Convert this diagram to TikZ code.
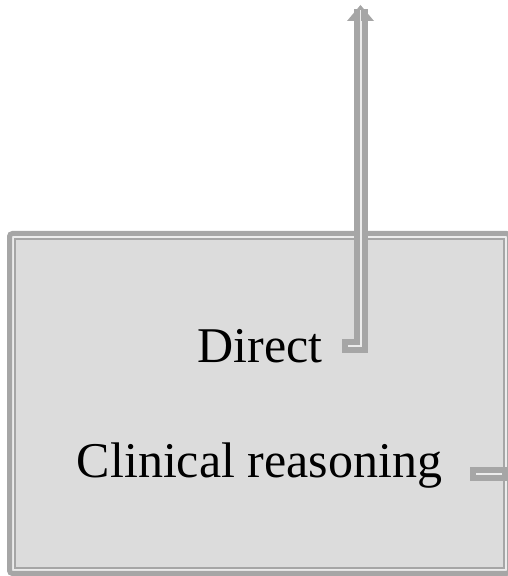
\documentclass[tikz,border=0pt]{standalone}
\usepackage{fontspec}
\setmainfont{Liberation Serif}
\definecolor{boxfill}{RGB}{220,220,220}
\definecolor{bordergray}{RGB}{166,166,166}
\definecolor{gaplight}{RGB}{236,236,236}
\tikzset{
  conn/.style={draw=bordergray, line width=6pt, double=gaplight, double distance=2pt, line cap=rect},
  lbl/.style={font=\fontsize{50}{56}\selectfont, anchor=base, inner sep=0pt}
}
\begin{document}
\begin{tikzpicture}[x=1pt,y=1pt]
\useasboundingbox (0,0) rectangle (508,576);
% box: outer band, light gap, inner line
\filldraw[fill=gaplight, draw=bordergray, line width=5pt, rounded corners=3pt] (9.5,342.5) rectangle (509.5,2.5);
\filldraw[fill=boxfill, draw=bordergray, line width=2pt] (15,337) rectangle (503.5,8);
% texts
\node[lbl] (direct) at (260,213) {Direct};
\node[lbl] (clinical) at (259.5,98) {Clinical reasoning};
% connectors
\coordinate (d0) at (349,230);
\coordinate (dtop) at (360.5,560);
\coordinate (c0) at (477,102);
\coordinate (cend) at (501,102);
\draw[conn] (d0) -| (dtop);
\fill[bordergray] (347,555) -- (374,555) -- (360.5,571) -- cycle;
\draw[gaplight, line width=1.5pt] (360.5,555) -- (360.5,566);
\draw[conn] (c0) -- (cend);
\end{tikzpicture}
\end{document}
